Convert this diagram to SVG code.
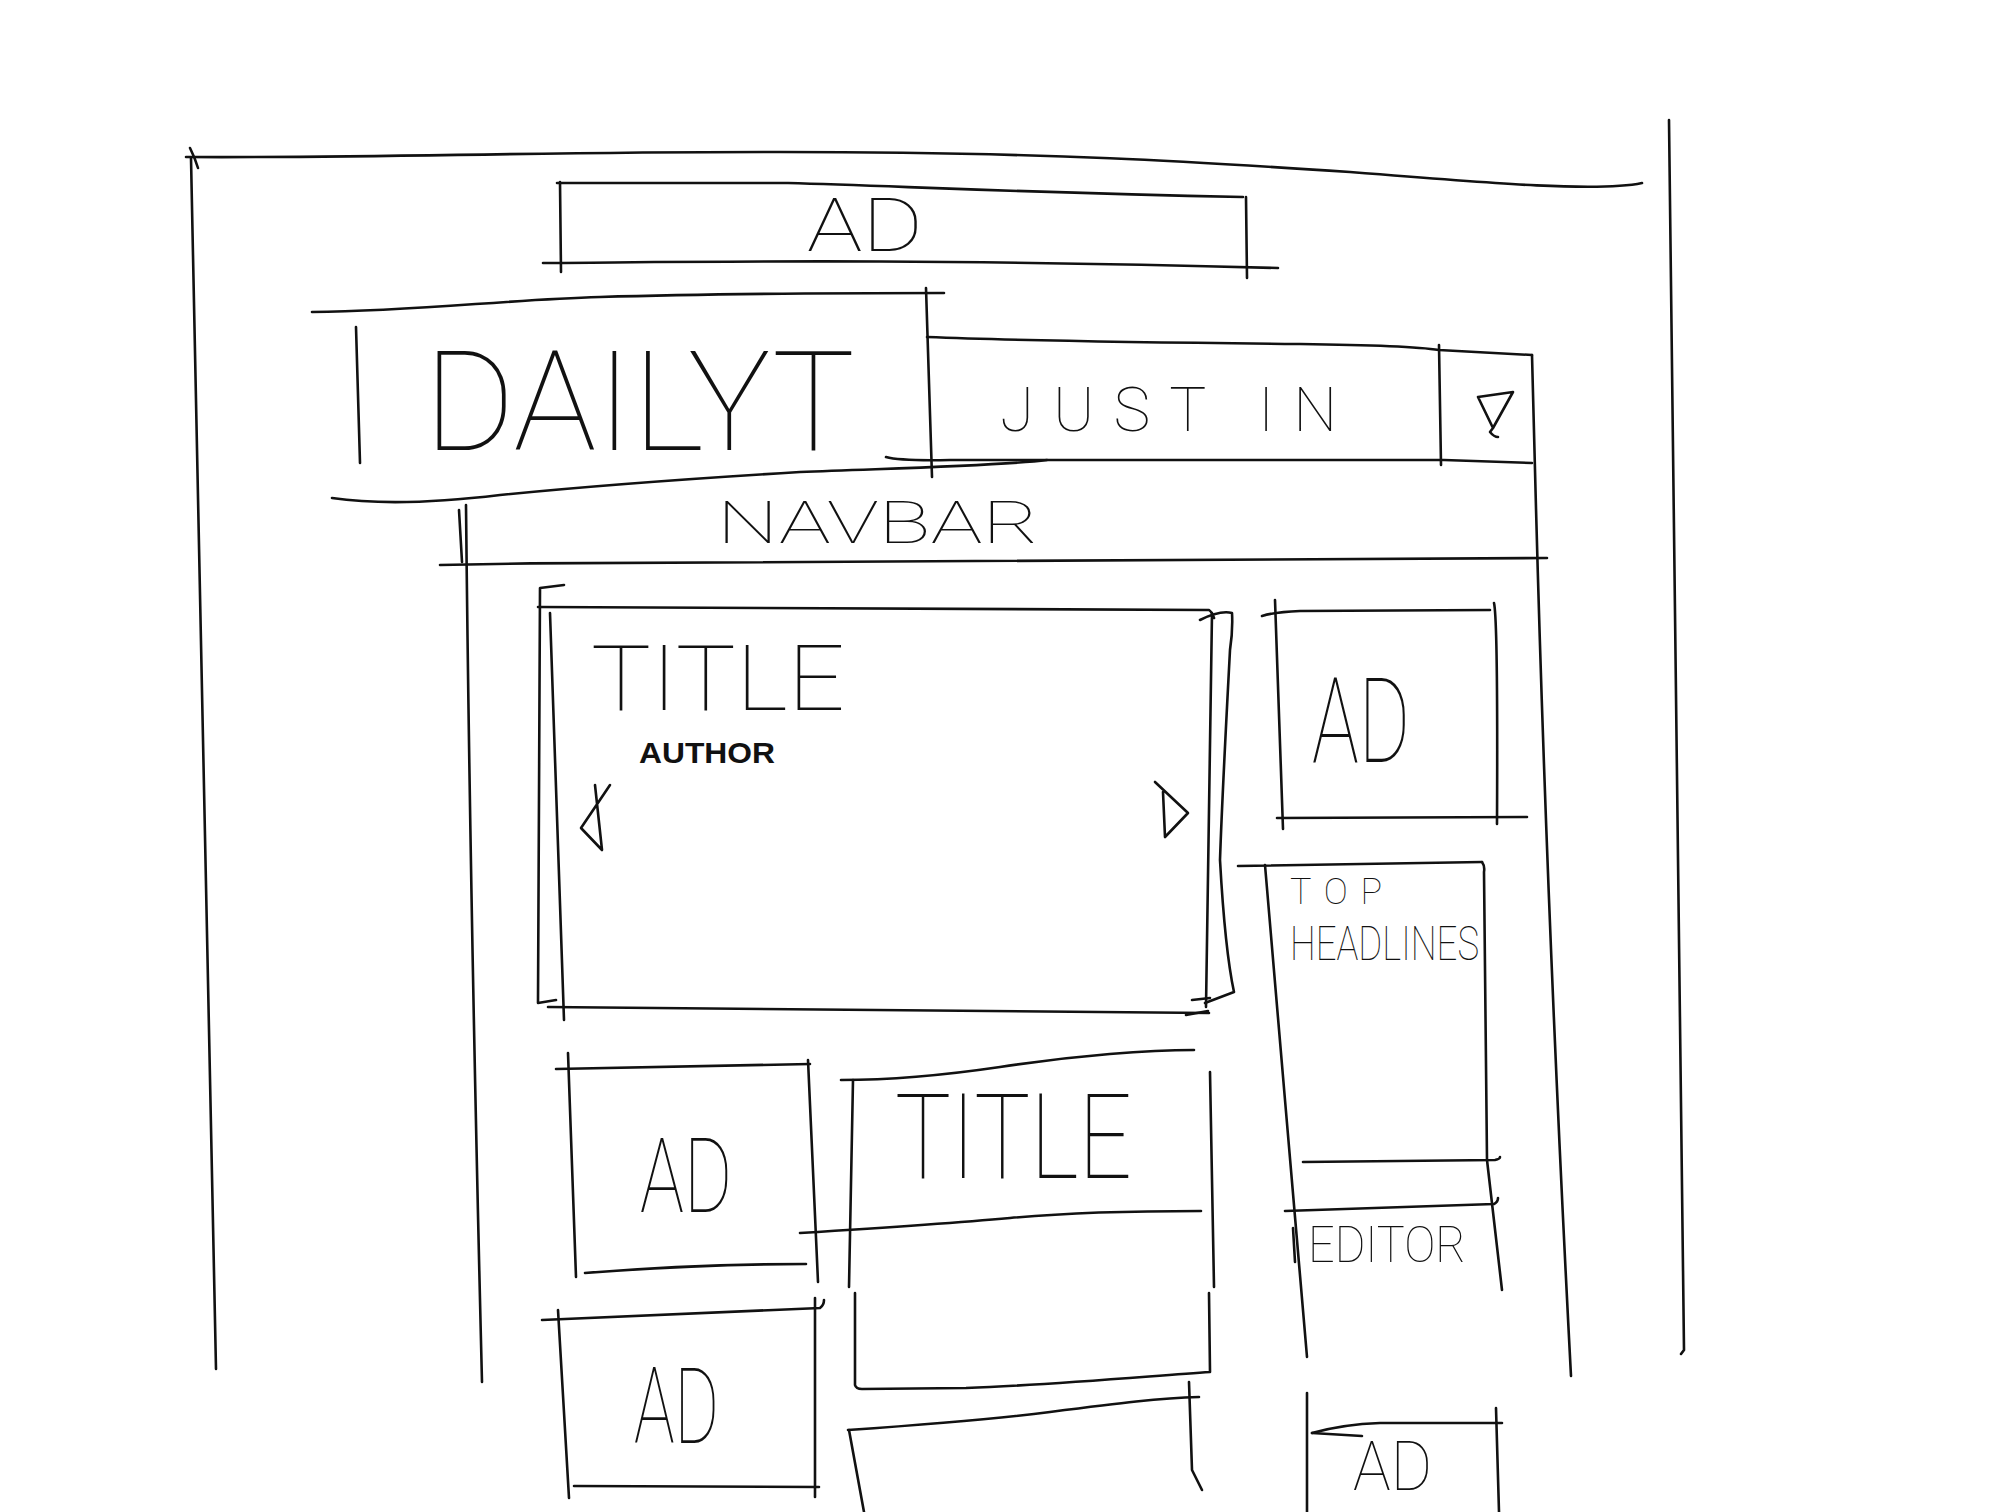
<svg xmlns="http://www.w3.org/2000/svg" width="2016" height="1512" viewBox="0 0 2016 1512">
<style>
.s{fill:none;stroke:#111;stroke-width:2.6;stroke-linecap:round;stroke-linejoin:round}
.t{font-family:Roboto,"Liberation Sans",sans-serif;font-weight:100;fill:#111}
.b{font-family:"Liberation Sans",Arial,sans-serif;font-weight:700;fill:#111}
</style>
<rect width="2016" height="1512" fill="#fff"/>
<g id="page-frame">
<path class="s" d="M190,148 Q195,158 198,168"/>
<path class="s" d="M191,158 Q202,700 216,1369"/>
<path class="s" d="M186,157 C400,158 500,152 780,152 C1050,152 1200,162 1350,172 C1500,184 1600,192 1642,183"/>
<path class="s" d="M1669,120 Q1676,700 1684,1350 L1681,1354"/>
<path class="s" d="M466,505 Q470,900 482,1382"/>
<path class="s" d="M459,510 L462,562"/>
<path class="s" d="M1532,355 L1535,470 Q1546,900 1571,1376"/>
</g>
<g id="top-ad">
<path class="s" d="M557,183 L788,183 C900,186 1000,192 1243,197"/>
<path class="s" d="M560,182 L561,272"/>
<path class="s" d="M1246,197 L1247,278"/>
<path class="s" d="M543,263 C700,262 900,258 1278,268"/>
<text class="t" x="807" y="251" font-size="74" textLength="116" lengthAdjust="spacingAndGlyphs">AD</text>
</g>
<g id="logo">
<path class="s" d="M312,312 C420,311 500,300 600,297 C700,294 800,293 944,293"/>
<path class="s" d="M356,327 L360,463"/>
<path class="s" d="M926,288 L932,477"/>
<path class="s" d="M332,498 C380,505 434,503 500,495 C600,485 700,478 800,472 C900,468 1000,466 1047,460"/>
<text class="t" x="424" y="450" font-size="140" textLength="431" lengthAdjust="spacingAndGlyphs">DAILYT</text>
</g>
<g id="just-in">
<path class="s" d="M927,337 C1000,340 1100,342 1300,344 C1380,345 1420,347 1439,350 L1532,355"/>
<path class="s" d="M886,457 Q900,461 950,460 L1444,460 L1532,463"/>
<path class="s" d="M1439,345 L1441,465"/>
<text class="t" x="1000" y="431" font-size="62" textLength="337" lengthAdjust="spacing">JUST IN</text>
</g>
<g id="search">
<path class="s" d="M1478,397 L1513,392 L1493,428 Z M1493,428 L1490,432 Q1494,437 1498,437"/>
</g>
<g id="navbar">
<path class="s" d="M440,565 C700,560 900,560 1547,558"/>
<text class="t" x="717" y="543" font-size="60" textLength="322" lengthAdjust="spacingAndGlyphs">NAVBAR</text>
</g>
<g id="carousel">
<path class="s" d="M564,585 L540,588 L538,1003 L556,1000"/>
<path class="s" d="M550,613 L564,1020"/>
<path class="s" d="M538,607 L1209,610 Q1212,612 1214,618"/>
<path class="s" d="M548,1007 L1209,1013"/>
<path class="s" d="M1212,613 L1206,1007"/>
<path class="s" d="M1200,620 Q1220,610 1232,613 Q1233,630 1230,650 Q1222,800 1220,860 Q1225,950 1234,992 L1205,1003"/>
<path class="s" d="M1192,1000 L1210,998 M1186,1015 L1208,1011"/>
<text class="t" x="591" y="710" font-size="90" textLength="254" lengthAdjust="spacingAndGlyphs">TITLE</text>
<text class="b" x="639" y="763" font-size="30" textLength="136" lengthAdjust="spacingAndGlyphs">AUTHOR</text>
<path class="s" d="M610,785 L581,828 L602,850 L595,785"/>
<path class="s" d="M1155,782 L1188,813 L1165,837 L1163,792"/>
</g>
<g id="side-ad">
<path class="s" d="M1262,616 Q1275,612 1300,611 L1490,610"/>
<path class="s" d="M1275,600 L1283,829"/>
<path class="s" d="M1494,603 Q1498,620 1497,824"/>
<path class="s" d="M1277,818 L1527,817"/>
<text class="t" x="1312" y="762" font-size="118" textLength="98" lengthAdjust="spacingAndGlyphs">AD</text>
</g>
<g id="top-headlines">
<path class="s" d="M1238,866 L1482,862"/>
<path class="s" d="M1265,865 L1285,1100 L1307,1357"/>
<path class="s" d="M1482,862 Q1485,866 1484,872 L1487,1160 L1502,1290"/>
<path class="s" d="M1303,1162 L1495,1160 Q1500,1159 1500,1157"/>
<text class="t" x="1290" y="904" font-size="36" textLength="92" lengthAdjust="spacing">TOP</text>
<text class="t" x="1290" y="960" font-size="48" textLength="189" lengthAdjust="spacingAndGlyphs">HEADLINES</text>
</g>
<g id="editor">
<path class="s" d="M1285,1211 L1494,1204 Q1498,1202 1498,1198"/>
<path class="s" d="M1293,1228 L1295,1262"/>
<text class="t" x="1308" y="1262" font-size="50" textLength="158" lengthAdjust="spacingAndGlyphs">EDITOR</text>
</g>
<g id="ad-left-1">
<path class="s" d="M556,1069 L810,1064"/>
<path class="s" d="M568,1053 L576,1277"/>
<path class="s" d="M808,1060 L818,1282"/>
<path class="s" d="M585,1273 Q700,1264 806,1264"/>
<text class="t" x="640" y="1212" font-size="104" textLength="92" lengthAdjust="spacingAndGlyphs">AD</text>
</g>
<g id="ad-left-2">
<path class="s" d="M542,1320 L820,1308 Q824,1305 824,1300"/>
<path class="s" d="M558,1310 L569,1498"/>
<path class="s" d="M815,1298 L815,1497"/>
<path class="s" d="M574,1486 L819,1487"/>
<text class="t" x="634" y="1443" font-size="106" textLength="85" lengthAdjust="spacingAndGlyphs">AD</text>
</g>
<g id="article-card">
<path class="s" d="M841,1080 C900,1080 966,1072 1000,1067 C1078,1055 1150,1050 1194,1050"/>
<path class="s" d="M853,1080 L849,1287"/>
<path class="s" d="M1210,1072 L1214,1287"/>
<path class="s" d="M800,1233 C880,1228 966,1222 1010,1218 C1074,1212 1150,1211 1201,1211"/>
<text class="t" x="895" y="1178" font-size="118" textLength="237" lengthAdjust="spacingAndGlyphs">TITLE</text>
<path class="s" d="M855,1293 L855,1385 Q856,1389 862,1389 L966,1388 C1050,1385 1150,1376 1210,1372 L1209,1293"/>
</g>
<g id="article-card-2">
<path class="s" d="M848,1430 C920,1425 1011,1417 1050,1412 C1120,1403 1160,1398 1199,1397"/>
<path class="s" d="M849,1430 L864,1512"/>
<path class="s" d="M1189,1382 L1192,1470 L1202,1490"/>
</g>
<g id="ad-bottom-right">
<path class="s" d="M1307,1393 L1307,1512"/>
<path class="s" d="M1496,1408 L1499,1512"/>
<path class="s" d="M1312,1433 C1330,1428 1350,1424 1380,1423 L1502,1423"/>
<path class="s" d="M1312,1433 L1362,1436"/>
<text class="t" x="1353" y="1490" font-size="68" textLength="79" lengthAdjust="spacingAndGlyphs">AD</text>
</g>
<g id="connectors"/>
</svg>
